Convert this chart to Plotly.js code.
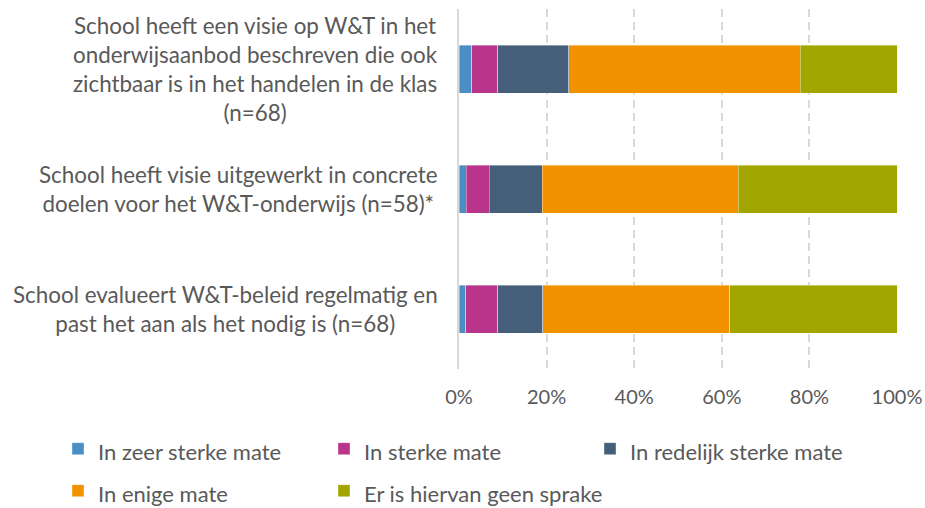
<!DOCTYPE html>
<html>
<head>
<meta charset="utf-8">
<script src="https://cdn.plot.ly/plotly-3.0.1.min.js"></script>
<style>html,body{margin:0;padding:0;background:#fff;}#chart{width:925px;height:508px;}</style>
</head>
<body>
<div id="chart"></div>
<script>
const categories = [
  "School heeft een visie op W&T in het<br>onderwijsaanbod beschreven die ook<br>zichtbaar is in het handelen in de klas<br>(n=68)",
  "School heeft visie uitgewerkt in concrete<br>doelen voor het W&T-onderwijs (n=58)*",
  "School evalueert W&T-beleid regelmatig en<br>past het aan als het nodig is (n=68)"
];
const seriesNames = ["In zeer sterke mate", "In sterke mate", "In redelijk sterke mate", "In enige mate", "Er is hiervan geen sprake"];
const zeerSterk = [2.9, 1.7, 1.5];
const sterk = [5.9, 5.2, 7.3];
const redelijkSterk = [16.2, 12.1, 10.3];
const enige = [52.9, 44.8, 42.7];
const geen = [22.1, 36.2, 38.2];
const tickVals = [0, 20, 40, 60, 80, 100];
const tickLabels = ["0%", "20%", "40%", "60%", "80%", "100%"];
const colors = ["#4A8EC6", "#B9348B", "#455F7A", "#F39200", "#A2A600"];

const seriesValues = [zeerSterk, sterk, redelijkSterk, enige, geen];
const traces = seriesValues.map((vals, i) => ({
  type: "bar",
  orientation: "h",
  name: '<span style="font-size:22px">' + seriesNames[i] + '</span>',
  x: vals,
  y: categories,
  marker: {color: colors[i], line: {color: "rgba(255,255,255,0.5)", width: 0.75}},
  hoverinfo: "x+name"
}));

const fontFam = "Lato, 'Open Sans', sans-serif";
const annotations = categories.map((c) => ({
  xref: "paper", yref: "y", x: 0, y: c,
  text: c, showarrow: false, xanchor: "right", yanchor: "middle", align: "center",
  xshift: -19,
  font: {family: fontFam, size: 22.4, color: "#595959"}
}));

const layout = {
  width: 925, height: 508,
  margin: {l: 459, r: 28, t: 9, b: 139, autoexpand: false},
  paper_bgcolor: "#fff", plot_bgcolor: "#fff",
  barmode: "stack",
  bargap: 0.6,
  showlegend: true,
  font: {family: fontFam, size: 20, color: "#595959"},
  xaxis: {
    range: [0, 100], tickvals: tickVals, ticktext: tickLabels,
    showgrid: true, gridcolor: "#D9D9D9", gridwidth: 2, griddash: "8px,5px",
    zeroline: false, showline: false, ticks: "", ticklabelstandoff: 14,
    tickfont: {family: fontFam, size: 20, color: "#595959"}, fixedrange: true
  },
  yaxis: {
    autorange: "reversed", showticklabels: false, ticks: "",
    showline: true, linecolor: "#D9D9D9", linewidth: 2, showgrid: false, fixedrange: true
  },
  legend: {
    orientation: "h", xref: "paper", yref: "paper",
    x: -0.9155, y: -0.149, xanchor: "left", yanchor: "top",
    entrywidth: 221, entrywidthmode: "pixels",
    font: {family: fontFam, size: 30, color: "#595959"},
    traceorder: "normal"
  },
  annotations: annotations
};

Plotly.newPlot("chart", traces, layout, {displayModeBar: false, staticPlot: true});
</script>
</body>
</html>
